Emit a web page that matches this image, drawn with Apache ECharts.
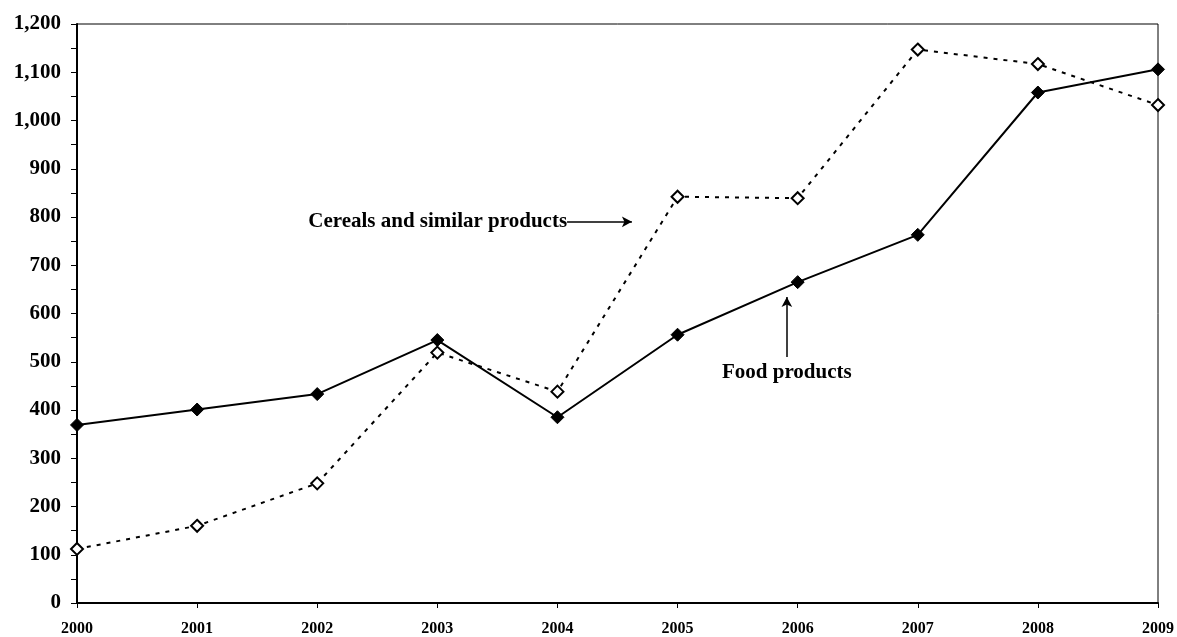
<!DOCTYPE html>
<html>
<head>
<meta charset="utf-8">
<script src="https://cdn.jsdelivr.net/npm/echarts@6/dist/echarts.min.js"></script>
<style>
  html, body { margin: 0; padding: 0; background: #fff; }
  #chart { width: 1177px; height: 637px; }
</style>
</head>
<body>
<div id="chart"></div>
<script>
var years = [2000, 2001, 2002, 2003, 2004, 2005, 2006, 2007, 2008, 2009]
var foodProducts = [369, 401, 433, 545, 385, 556, 665, 763, 1058, 1106]
var cerealProducts = [112, 160, 248, 519, 438, 842, 839, 1147, 1117, 1032]

var fontFamily = '"Liberation Serif", "Times New Roman", serif'

function pairs (vals) {
  return vals.map(function (v, i) { return [years[i], v] })
}

var chart = echarts.init(document.getElementById('chart'))
chart.setOption({
  animation: false,
  backgroundColor: '#fff',
  grid: {
    left: 77,
    right: 18,
    top: 24,
    bottom: 34,
    show: true,
    borderColor: '#000',
    borderWidth: 1
  },
  xAxis: {
    type: 'value',
    min: 2000,
    max: 2009,
    interval: 1,
    axisLine: { show: true, onZero: false, lineStyle: { color: '#000', width: 2 } },
    axisTick: { show: true, length: 5, lineStyle: { color: '#000', width: 1 } },
    splitLine: { show: false },
    axisLabel: {
      margin: 18,
      color: '#000',
      fontFamily: fontFamily,
      fontWeight: 'bold',
      fontSize: 16,
      formatter: function (v) { return String(v) }
    }
  },
  yAxis: {
    type: 'value',
    min: 0,
    max: 1200,
    interval: 100,
    axisLine: { show: true, lineStyle: { color: '#000', width: 2 } },
    axisTick: { show: true, length: 6, lineStyle: { color: '#000', width: 1 } },
    minorTick: { show: true, splitNumber: 2, length: 6, lineStyle: { color: '#000', width: 1 } },
    splitLine: { show: false },
    axisLabel: {
      margin: 16,
      color: '#000',
      fontFamily: fontFamily,
      fontWeight: 'bold',
      fontSize: 21
    }
  },
  series: [
    {
      name: 'Cereals and similar products',
      type: 'line',
      data: pairs(cerealProducts),
      symbol: 'diamond',
      symbolSize: [12, 12],
      z: 2,
      itemStyle: { color: '#fff', borderColor: '#000', borderWidth: 2 },
      lineStyle: { color: '#000', width: 2, type: [4, 6] },
      markLine: {
        silent: true,
        symbol: ['none', 'arrow'],
        symbolSize: [8, 10],
        lineStyle: { color: '#000', width: 1.5, type: 'solid' },
        label: {
          show: true,
          position: 'start',
          distance: 0,
          color: '#000',
          fontFamily: fontFamily,
          fontWeight: 'bold',
          fontSize: 21,
          formatter: 'Cereals and similar products'
        },
        data: [[{ coord: [2004.08, 790] }, { coord: [2004.62, 790] }]]
      }
    },
    {
      name: 'Food products',
      type: 'line',
      data: pairs(foodProducts),
      symbol: 'diamond',
      symbolSize: [13, 13],
      z: 3,
      itemStyle: { color: '#000', borderColor: '#000', borderWidth: 1 },
      lineStyle: { color: '#000', width: 2 },
      markLine: {
        silent: true,
        symbol: ['none', 'arrow'],
        symbolSize: [8, 10],
        lineStyle: { color: '#000', width: 1.5, type: 'solid' },
        label: {
          show: true,
          position: 'start',
          distance: 5,
          color: '#000',
          fontFamily: fontFamily,
          fontWeight: 'bold',
          fontSize: 21,
          formatter: 'Food products'
        },
        data: [[{ coord: [2005.91, 510] }, { coord: [2005.91, 634] }]]
      }
    }
  ]
})
</script>
</body>
</html>
